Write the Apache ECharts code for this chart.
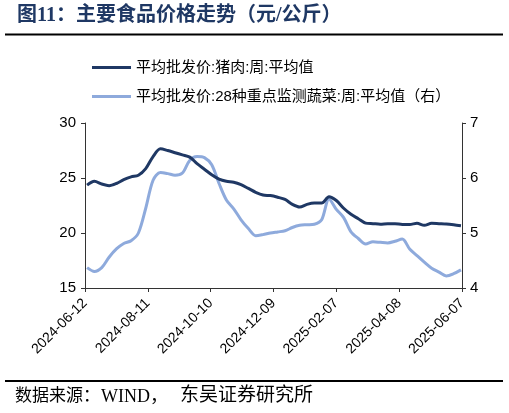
<!DOCTYPE html>
<html>
<head>
<meta charset="utf-8">
<script src="https://cdn.jsdelivr.net/npm/echarts@6/dist/echarts.min.js"></script>
<style>
html, body { margin: 0; padding: 0; background: #fff; }
#main { width: 509px; height: 413px; }
</style>
</head>
<body>
<div id="main"></div>
<script>
// weekly observations (Fridays)
var dates = [
	'2024-06-14','2024-06-21','2024-06-28','2024-07-05','2024-07-12','2024-07-19','2024-07-26',
	'2024-08-02','2024-08-09','2024-08-16','2024-08-23','2024-08-30','2024-09-06','2024-09-13',
	'2024-09-20','2024-09-27','2024-10-04','2024-10-11','2024-10-18','2024-10-25','2024-11-01',
	'2024-11-08','2024-11-15','2024-11-22','2024-11-29','2024-12-06','2024-12-13','2024-12-20',
	'2024-12-27','2025-01-03','2025-01-10','2025-01-17','2025-01-24','2025-01-31','2025-02-07',
	'2025-02-14','2025-02-21','2025-02-28','2025-03-07','2025-03-14','2025-03-21','2025-03-28',
	'2025-04-04','2025-04-11','2025-04-18','2025-04-25','2025-05-02','2025-05-09','2025-05-16',
	'2025-05-23','2025-05-30','2025-06-06'
];
// 平均批发价:猪肉:周:平均值 (left axis)
var pork = [
	24.35, 24.7, 24.45, 24.3, 24.5, 24.85, 25.1, 25.25, 25.85, 26.95, 27.65, 27.5, 27.3, 27.1,
	26.9, 26.3, 25.8, 25.3, 24.9, 24.7, 24.62, 24.4, 24.05, 23.7, 23.45, 23.4, 23.25, 23.05,
	22.6, 22.36, 22.6, 22.72, 22.72, 23.3, 22.95, 22.25, 21.7, 21.3, 20.9, 20.85, 20.8, 20.85,
	20.85, 20.78, 20.78, 20.88, 20.7, 20.88, 20.85, 20.82, 20.75, 20.66
];
// 平均批发价:28种重点监测蔬菜:周:平均值 (right axis)
var veg = [
	4.37, 4.30, 4.37, 4.56, 4.71, 4.81, 4.86, 5.0, 5.45, 5.96, 6.10, 6.08, 6.05, 6.09,
	6.32, 6.39, 6.37, 6.24, 5.9, 5.6, 5.44, 5.24, 5.08, 4.95, 4.97, 5.0, 5.02, 5.04,
	5.1, 5.14, 5.15, 5.16, 5.24, 5.62, 5.43, 5.28, 5.02, 4.9, 4.8, 4.84, 4.83, 4.82,
	4.85, 4.89, 4.71, 4.59, 4.47, 4.36, 4.29, 4.22, 4.26, 4.33
];
var seriesNames = ['平均批发价:猪肉:周:平均值', '平均批发价:28种重点监测蔬菜:周:平均值（右）'];
var startDate = '2024-06-12';
var dayMs = 86400000;
var startMs = Date.parse(startDate + 'T00:00:00Z');

function dayOf(s) {
	return Math.round((Date.parse(s + 'T00:00:00Z') - startMs) / dayMs);
}
function pad(n) {
	return n < 10 ? '0' + n : '' + n;
}
function labelOf(d) {
	var t = new Date(startMs + d * dayMs);
	return t.getUTCFullYear() + '-' + pad(t.getUTCMonth() + 1) + '-' + pad(t.getUTCDate());
}
function pairs(vals) {
	var out = [];
	for (var i = 0; i < dates.length; i++) {
		out.push([dayOf(dates[i]), vals[i]]);
	}
	return out;
}

var darkBlue = '#1F3864';
var lightBlue = '#8EAADC';
var cjk = '"Liberation Sans", "Noto Sans CJK SC", sans-serif';
var serif = '"Liberation Serif", "Noto Sans CJK SC", serif';
var arial = '"Liberation Sans", Arial, sans-serif';
var axisStyle = { color: '#333', width: 1 };

var myChart = echarts.init(document.getElementById('main'));
option = {
	animation: false,
	backgroundColor: '#fff',
	textStyle: { fontFamily: cjk },
	graphic: [
		{
			type: 'text', left: 17, top: 6,
			style: {
				text: '图11：主要食品价格走势（元/公斤）',
				fill: darkBlue,
				font: 'bold 20px ' + serif
			}
		},
		{
			type: 'line',
			shape: { x1: 5, y1: 34.5, x2: 503, y2: 34.5 },
			style: { stroke: '#000', lineWidth: 2 }
		},
		{
			type: 'line',
			shape: { x1: 5, y1: 381, x2: 503, y2: 381 },
			style: { stroke: '#000', lineWidth: 2 }
		},
		// 数据来源 footer, split so spacing follows the reference
		{
			type: 'text', left: 15, top: 388,
			style: { text: '数据来源：', fill: '#000', font: '17px ' + serif }
		},
		{
			type: 'text', left: 101, top: 388,
			style: { text: 'WIND，', fill: '#000', font: '18px ' + serif }
		},
		{
			type: 'text', left: 180, top: 387,
			style: { text: '东吴证券研究所', fill: '#000', font: '19px ' + serif }
		}
	],
	legend: {
		orient: 'vertical',
		left: 87,
		top: 55,
		itemWidth: 39,
		itemHeight: 3,
		itemGap: 14,
		icon: 'rect',
		textStyle: { fontSize: 15, color: '#000', fontFamily: cjk },
		data: seriesNames
	},
	grid: { left: 85, right: 47, top: 123, bottom: 125 },
	xAxis: {
		type: 'value',
		min: 0,
		max: 360,
		interval: 60,
		splitLine: { show: false },
		axisLine: { lineStyle: axisStyle },
		axisTick: { show: true, length: 4, lineStyle: axisStyle },
		axisLabel: {
			rotate: 45,
			fontSize: 14,
			color: '#000',
			margin: 13,
			fontFamily: arial,
			formatter: function (v) { return labelOf(v); }
		}
	},
	yAxis: [
		{
			type: 'value',
			min: 15,
			max: 30,
			interval: 5,
			splitLine: { show: false },
			axisLine: { show: true, lineStyle: axisStyle },
			axisTick: { show: true, length: 4, lineStyle: axisStyle },
			axisLabel: { fontSize: 15, color: '#000', margin: 9, fontFamily: arial }
		},
		{
			type: 'value',
			min: 4,
			max: 7,
			interval: 1,
			position: 'right',
			splitLine: { show: false },
			axisLine: { show: true, lineStyle: axisStyle },
			axisTick: { show: true, length: 4, lineStyle: axisStyle },
			axisLabel: { fontSize: 15, color: '#000', margin: 8, fontFamily: arial }
		}
	],
	series: [
		{
			name: seriesNames[0],
			type: 'line',
			yAxisIndex: 0,
			showSymbol: false,
			smooth: 0.3,
			lineStyle: { color: darkBlue, width: 3 },
			itemStyle: { color: darkBlue },
			data: pairs(pork),
			z: 3
		},
		{
			name: seriesNames[1],
			type: 'line',
			yAxisIndex: 1,
			showSymbol: false,
			smooth: 0.3,
			lineStyle: { color: lightBlue, width: 3 },
			itemStyle: { color: lightBlue },
			data: pairs(veg),
			z: 2
		}
	]
};
myChart.setOption(option);
</script>
</body>
</html>
